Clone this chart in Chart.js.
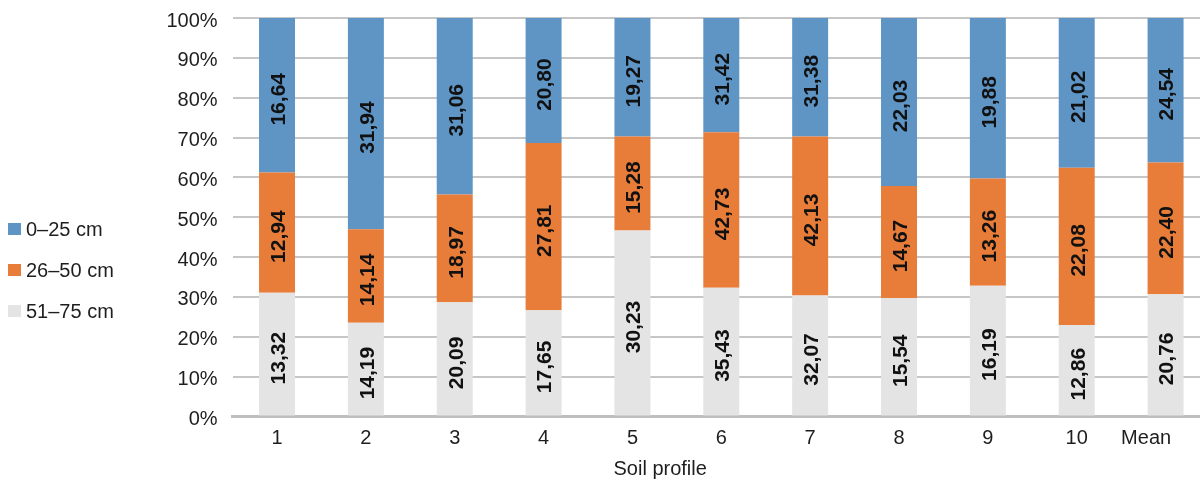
<!DOCTYPE html>
<html>
<head>
<meta charset="utf-8">
<script src="https://cdn.jsdelivr.net/npm/chart.js@4.4.0/dist/chart.umd.min.js"></script>
<style>
html,body{margin:0;padding:0;background:#fff;overflow:hidden}
#wrap{width:1200px;height:481px;overflow:hidden;position:relative;background:#fff}
canvas{display:block}
</style>
</head>
<body>
<div id="wrap"><canvas id="c" width="1210" height="481"></canvas></div>
<script>
// ---- data ----
const categories = ['1', '2', '3', '4', '5', '6', '7', '8', '9', '10', 'Mean'];
const seriesNames = ['0–25 cm', '26–50 cm', '51–75 cm'];
const depth0to25 = [16.64, 31.94, 31.06, 20.80, 19.27, 31.42, 31.38, 22.03, 19.88, 21.02, 24.54];
const depth26to50 = [12.94, 14.14, 18.97, 27.81, 15.28, 42.73, 42.13, 14.67, 13.26, 22.08, 22.40];
const depth51to75 = [13.32, 14.19, 20.09, 17.65, 30.23, 35.43, 32.07, 15.54, 16.19, 12.86, 20.76];
const yTickValues = [0, 10, 20, 30, 40, 50, 60, 70, 80, 90, 100];
const xTitle = 'Soil profile';

// ---- derived: 100% stacking ----
const totals = categories.map((_, i) => depth0to25[i] + depth26to50[i] + depth51to75[i]);
const pct = arr => arr.map((v, i) => v / totals[i] * 100);

const FONT = '"Liberation Sans", Arial, Helvetica, sans-serif';
const TEXT = '#1e1e1e';

// stacking order: bottom -> top
const datasets = [
  { label: seriesNames[2], raw: depth51to75, data: pct(depth51to75), backgroundColor: '#E3E4E3' },
  { label: seriesNames[1], raw: depth26to50, data: pct(depth26to50), backgroundColor: '#E87D3A' },
  { label: seriesNames[0], raw: depth0to25, data: pct(depth0to25), backgroundColor: '#5E95C5' }
].map(d => Object.assign(d, { borderWidth: 0, barPercentage: 0.405, categoryPercentage: 1.0 }));

const valueLabels = {
  id: 'valueLabels',
  afterDatasetsDraw(chart) {
    const ctx = chart.ctx;
    ctx.save();
    ctx.font = 'bold 21px ' + FONT;
    ctx.fillStyle = '#111';
    ctx.textAlign = 'center';
    ctx.textBaseline = 'middle';
    chart.data.datasets.forEach((ds, di) => {
      const meta = chart.getDatasetMeta(di);
      meta.data.forEach((bar, i) => {
        const txt = ds.raw[i].toFixed(2).replace('.', ',');
        const cy = (bar.y + bar.base) / 2;
        ctx.save();
        ctx.translate(bar.x + 2, cy + 4);
        ctx.rotate(-Math.PI / 2);
        ctx.fillText(txt, 0, 0);
        ctx.restore();
      });
    });
    ctx.restore();
  }
};

const sideLegend = {
  id: 'sideLegend',
  afterDraw(chart) {
    const ctx = chart.ctx;
    const items = chart.data.datasets.slice().reverse();
    ctx.save();
    ctx.font = '20px ' + FONT;
    ctx.textBaseline = 'middle';
    ctx.textAlign = 'left';
    items.forEach((d, k) => {
      const cy = 229 + k * 41;
      ctx.fillStyle = d.backgroundColor;
      ctx.fillRect(8, cy - 6, 13, 12);
      ctx.fillStyle = TEXT;
      ctx.fillText(d.label, 26, cy + 1);
    });
    ctx.restore();
  }
};

new Chart(document.getElementById('c'), {
  type: 'bar',
  data: { labels: categories, datasets },
  options: {
    responsive: false,
    animation: false,
    layout: { padding: { top: 18, left: 0, right: 0, bottom: 0 } },
    plugins: { legend: { display: false }, tooltip: { enabled: false } },
    scales: {
      x: {
        stacked: true,
        offset: true,
        grid: { display: false, drawTicks: false },
        border: { display: true, color: '#BEBEBE', width: 3 },
        ticks: {
          color: TEXT, font: { family: FONT, size: 20 }, padding: 10,
          maxRotation: 0, autoSkip: false,
          callback: function (v) {
            const l = this.getLabelForValue(v);
            return l === 'Mean' ? l + '\u00A0'.repeat(7) : l;
          }
        },
        title: { display: true, text: xTitle + '\u00A0'.repeat(22), color: TEXT, font: { family: FONT, size: 20 }, padding: { top: 0, bottom: 0 } },
        afterFit: s => { s.height = 481 - 416.5; s.paddingLeft = 0; s.paddingRight = 0; }
      },
      y: {
        stacked: true,
        min: 0, max: 100,
        afterBuildTicks: s => { s.ticks = yTickValues.map(v => ({ value: v })); },
        grid: { color: '#C6C6C6', lineWidth: 2, drawTicks: false },
        border: { display: false },
        ticks: {
          color: TEXT, font: { family: FONT, size: 20 }, padding: 15, labelOffset: 3,
          callback: v => v + '%'
        },
        afterFit: s => { s.width = 232.6; s.paddingTop = 0; s.paddingBottom = 0; }
      }
    }
  },
  plugins: [valueLabels, sideLegend]
});
</script>
</body>
</html>
